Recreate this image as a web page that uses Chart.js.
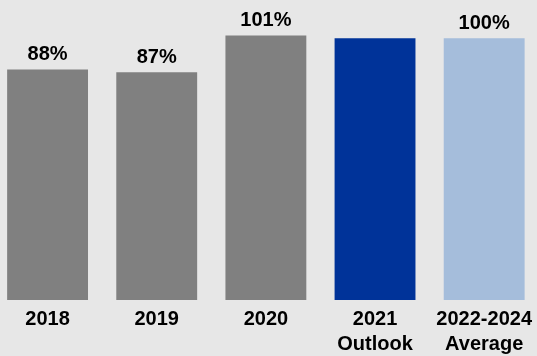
<!DOCTYPE html>
<html>
<head>
<meta charset="utf-8">
<script src="https://cdn.jsdelivr.net/npm/chart.js@4/dist/chart.umd.min.js"></script>
<style>
  html, body { margin: 0; padding: 0; background: #e7e7e7; overflow: hidden; width: 537px; height: 356px; }
  #wrap { position: absolute; left: -7px; top: 0; width: 546px; height: 364px; }
</style>
</head>
<body>
<div id="wrap"><canvas id="c"></canvas></div>
<script>
const categories = [["2018"], ["2019"], ["2020"], ["2021", "Outlook"], ["2022-2024", "Average"]];
const values = [88, 87, 101, 100, 100];
const valueLabels = ["88%", "87%", "101%", "", "100%"];
const barColors = ["#808080", "#808080", "#808080", "#003399", "#a5bddb"];

const FONT_FAMILY = '"Liberation Sans", Arimo, Arial, sans-serif';

const topLabels = {
  id: 'topLabels',
  afterDatasetsDraw(chart) {
    const ctx = chart.ctx;
    const meta = chart.getDatasetMeta(0);
    ctx.save();
    ctx.font = 'bold 20px ' + FONT_FAMILY;
    ctx.fillStyle = '#000';
    ctx.textAlign = 'center';
    ctx.textBaseline = 'alphabetic';
    meta.data.forEach((bar, i) => {
      if (!valueLabels[i]) return;
      ctx.fillText(valueLabels[i], bar.x, bar.y - 9.5);
    });
    ctx.restore();
  }
};

function draw() {
  new Chart(document.getElementById('c'), {
    type: 'bar',
    data: {
      labels: categories,
      datasets: [{
        data: values,
        backgroundColor: barColors,
        borderWidth: 0,
        barPercentage: 0.741,
        categoryPercentage: 1.0
      }]
    },
    options: {
      responsive: true,
      maintainAspectRatio: false,
      animation: false,
      layout: { padding: { top: 12, left: 0, right: 0, bottom: 0 } },
      plugins: { legend: { display: false }, tooltip: { enabled: false } },
      scales: {
        x: {
          grid: { display: false, drawTicks: false },
          border: { display: false },
          ticks: {
            color: '#000',
            padding: 7,
            maxRotation: 0,
            autoSkip: false,
            font: { family: FONT_FAMILY, size: 20, weight: 'bold', lineHeight: 1.25 }
          }
        },
        y: {
          display: false,
          min: 0,
          max: 110
        }
      }
    },
    plugins: [topLabels]
  });
}

if (document.fonts && document.fonts.load) {
  document.fonts.load('bold 20px "Liberation Sans"').then(draw, draw);
} else {
  draw();
}
</script>
</body>
</html>
